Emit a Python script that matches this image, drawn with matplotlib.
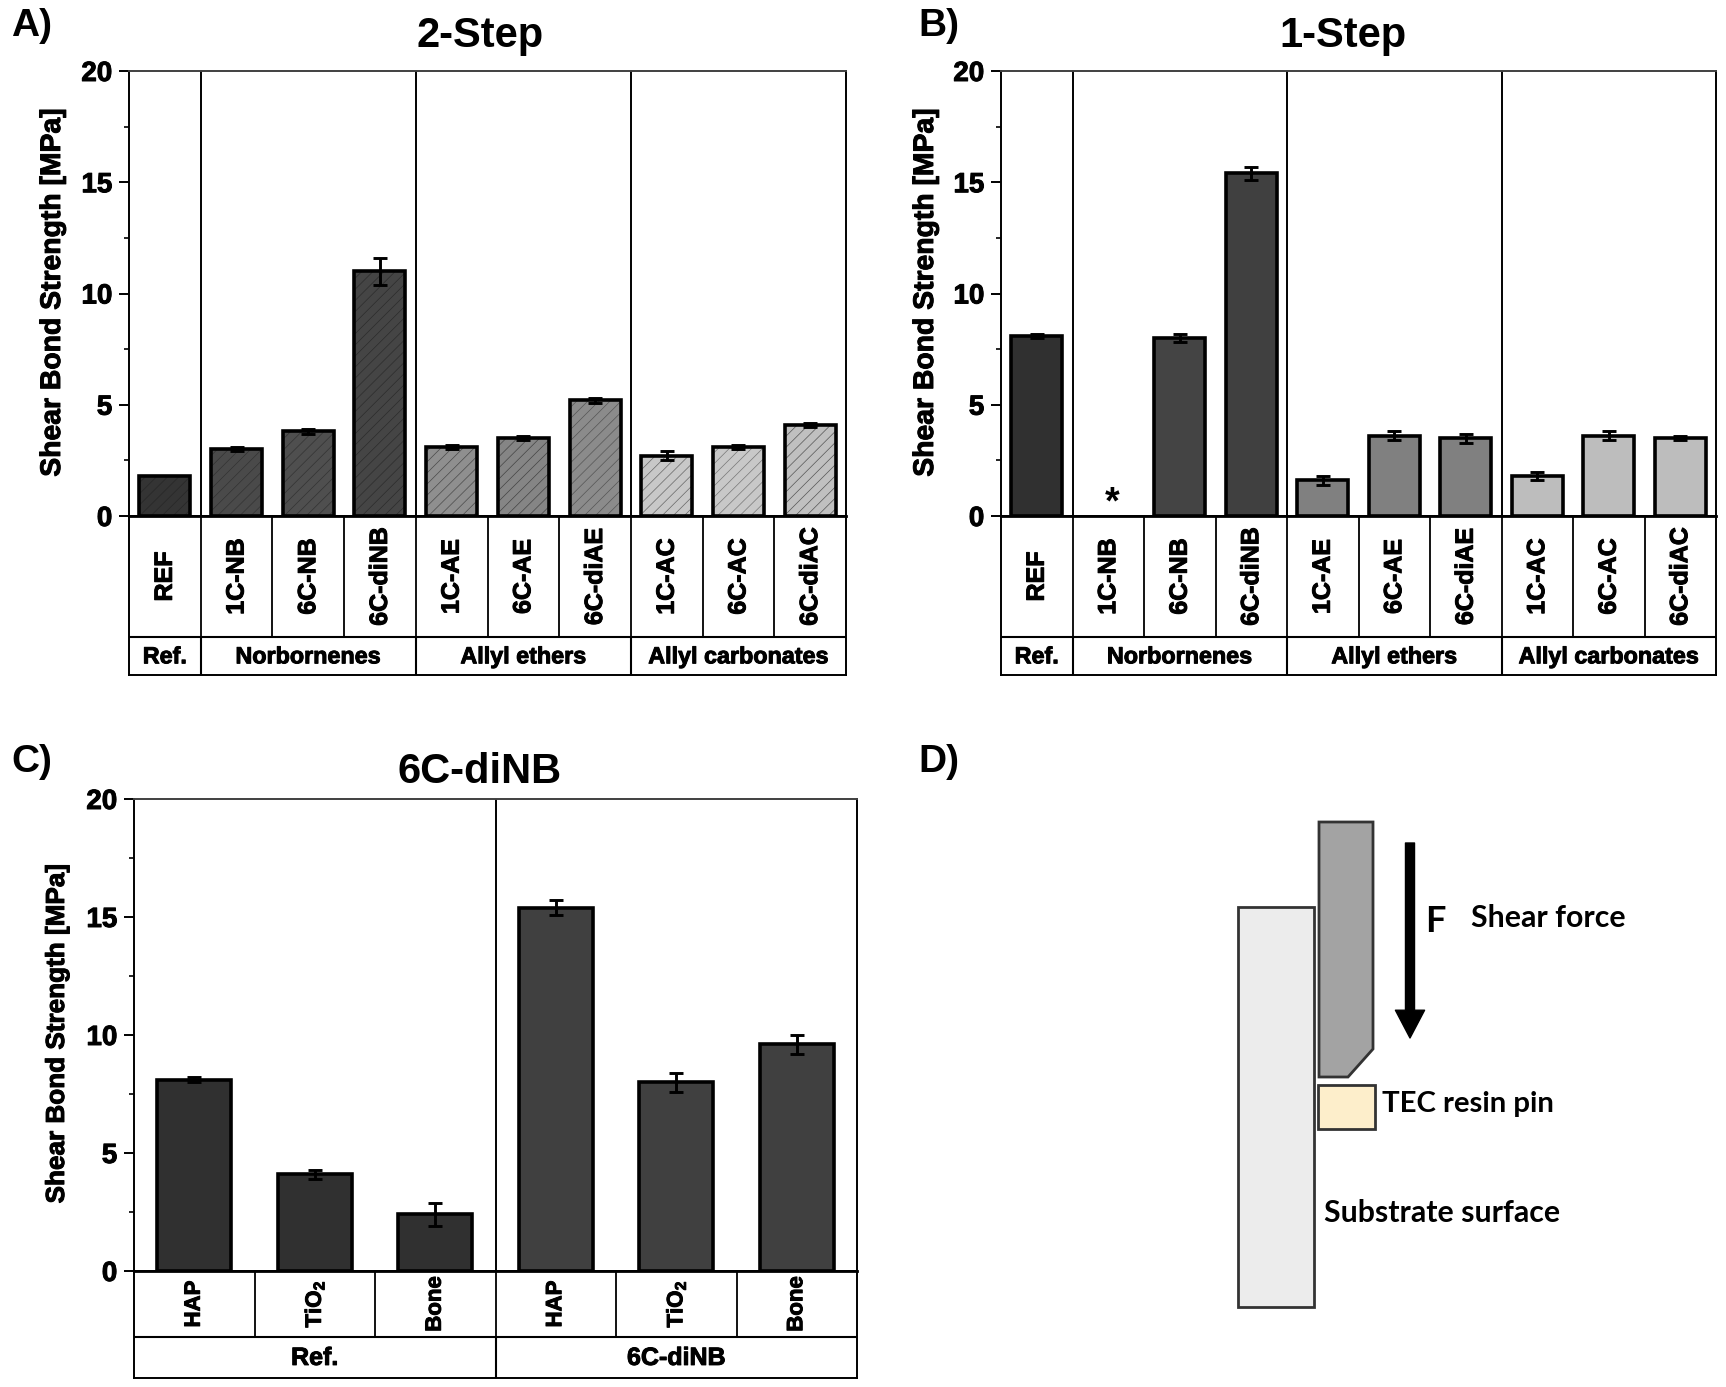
import numpy as np
import matplotlib
matplotlib.use("Agg")
import matplotlib.pyplot as plt
import matplotlib.patheffects as pe
from matplotlib.patches import Polygon

plt.rcParams['font.family'] = ['Liberation Sans', 'DejaVu Sans']
plt.rcParams['font.weight'] = 'bold'
plt.rcParams['mathtext.fontset'] = 'custom'
plt.rcParams['mathtext.rm'] = 'Liberation Sans:bold'
plt.rcParams['mathtext.default'] = 'rm'
plt.rcParams['hatch.linewidth'] = 0.5

W, H = 1726, 1387

# data
names = ['REF', '1C-NB', '6C-NB', '6C-diNB', '1C-AE', '6C-AE', '6C-diAE', '1C-AC', '6C-AC', '6C-diAC']
groups = ['Ref.', 'Norbornenes', 'Allyl ethers', 'Allyl carbonates']
group_sizes = [1, 3, 3, 3]

two_step = [1.8, 3.0, 3.8, 11.0, 3.1, 3.5, 5.2, 2.7, 3.1, 4.1]
two_step_err = [0, 0.1, 0.1, 0.6, 0.1, 0.1, 0.1, 0.2, 0.1, 0.1]
one_step = [8.1, 0, 8.0, 15.4, 1.6, 3.6, 3.5, 1.8, 3.6, 3.5]
one_step_err = [0.1, 0, 0.2, 0.3, 0.2, 0.2, 0.2, 0.2, 0.2, 0.1]

substrates = ['HAP', 'TiO$_2$', 'Bone', 'HAP', 'TiO$_2$', 'Bone']
sub_groups = ['Ref.', '6C-diNB']
sub_sizes = [3, 3]
substrate_vals = [8.1, 4.1, 2.4, 15.4, 8.0, 9.6]
substrate_err = [0.1, 0.2, 0.5, 0.3, 0.4, 0.4]

colors_a = ['#343434', '#4a4a4a', '#4f4f4f', '#454545', '#8f8f8f', '#858585', '#8b8b8b', '#c8c8c8', '#c8c8c8', '#c0c0c0']
hatch_a = ['#262626', '#333333', '#333333', '#2c2c2c', '#4a4a4a', '#444444', '#555555', '#666666', '#777777', '#555555']
colors_b = ['#303030', '#444444', '#444444', '#404040', '#808080', '#808080', '#808080', '#bdbdbd', '#bdbdbd', '#bdbdbd']
colors_c = ['#303030', '#303030', '#303030', '#404040', '#404040', '#404040']

# schematic in panel D, pixel positions
substrate_box = [(1242, 907), (1318, 907), (1318, 1307), (1242, 1307)]
pin_shape = [(1322, 822), (1378, 822), (1378, 1049), (1353, 1077), (1322, 1077)]
resin_box = [(1321, 1088), (1378, 1088), (1378, 1132), (1321, 1132)]
resin_box = [(x, y - 3) for x, y in resin_box]
arrow_x, arrow_top, arrow_tip = 1414, 843, 1038

heavy = [pe.withStroke(linewidth=0.7, foreground='black')]


def px_axes(fig, left, top, right, bottom):
    return fig.add_axes([left / W, 1 - bottom / H, (right - left) / W, (bottom - top) / H])


def panel(fig, box, vals, errs, colors, labels, grp, sizes, row2, width,
          label_size, group_size, ylabel, ylabel_x, ylabel_size, hatch_colors=None):
    left, top, right, y0, bottom = box
    n = len(vals)
    x = np.arange(n) + 0.5

    ax = px_axes(fig, left, top, right, y0)
    if hatch_colors is not None:
        # hatch lines take the edge colour, so the outline goes on in a second pass
        ax.bar(x, vals, width=width, color=colors, edgecolor=hatch_colors, linewidth=0, hatch='///', zorder=2)
        ax.bar(x, vals, width=width, fill=False, edgecolor='black', linewidth=2.6, zorder=2)
    else:
        lws = [2.6 if v > 0 else 0 for v in vals]
        ax.bar(x, vals, width=width, color=colors, edgecolor='black', linewidth=lws, zorder=2)
    for xi, v, e in zip(x, vals, errs):
        if e > 0:
            ax.errorbar(xi, v, yerr=e, color='black', elinewidth=2.1, capsize=5,
                        capthick=2.1, zorder=3)
    ax.set_xlim(0, n)
    ax.set_ylim(0, 20)
    ax.set_xticks([])
    ax.set_yticks([0, 5, 10, 15, 20])
    ax.set_yticks([2.5, 7.5, 12.5, 17.5], minor=True)
    ax.tick_params(axis='y', which='major', length=7, width=1.4, labelsize=20, pad=5)
    ax.tick_params(axis='y', which='minor', length=3.5, width=1.2)
    for t in ax.get_yticklabels():
        t.set_path_effects(heavy)
    for s in ax.spines.values():
        s.set_linewidth(1.4)
    ax.spines['top'].set_color('#404040')
    ax.spines['bottom'].set_linewidth(2.0)
    fig.text(ylabel_x / W, 1 - (top + y0) / 2 / H + 0.001, ylabel, rotation=90, ha='center',
             va='center', fontsize=ylabel_size, path_effects=heavy)

    # category table under the axis
    tb = px_axes(fig, left, y0, right, bottom)
    tb.set_xlim(0, n)
    tb.set_ylim(0, 1)
    tb.set_xticks([])
    tb.set_yticks([])
    tb.patch.set_alpha(0)
    for s in tb.spines.values():
        s.set_linewidth(1.4)
    tb.axhline(row2, color='black', lw=1.5)
    tb.vlines(np.arange(1, n), row2, 1, color='black', lw=1.3)
    for xi, name in zip(x, labels):
        tb.text(xi, (row2 + 1) / 2, name, rotation=90, ha='center', va='center',
                fontsize=label_size, path_effects=heavy)

    edges = np.cumsum(sizes)
    start = 0
    for g, e, size in zip(grp, edges, sizes):
        tb.text(start + size / 2, row2 / 2 - 0.005, g, ha='center', va='center', fontsize=group_size,
                path_effects=heavy)
        if e < n:
            tb.vlines(e, 0, row2, color='black', lw=1.5)
            ax.axvline(e, color='black', lw=1.4, zorder=1)
        start = e
    return ax


fig = plt.figure(figsize=(W / 100, H / 100), dpi=100, facecolor='white')

ylab = 'Shear Bond Strength [MPa]'
panel(fig, (129, 71, 846, 516, 675), two_step, two_step_err, colors_a, names, groups, group_sizes,
      0.2385, 0.71, 18, 16.8, ylab, 53, 20.4, hatch_colors=hatch_a)
ax_b = panel(fig, (1001, 71, 1716, 516, 675), one_step, one_step_err, colors_b, names, groups, group_sizes,
             0.2385, 0.71, 18, 16.8, ylab, 926, 20.4)
ax_b.text(1.56, 0.55, '*', ha='center', va='center', fontsize=27)
panel(fig, (134, 799, 857, 1271, 1378), substrate_vals, substrate_err, colors_c, substrates, sub_groups, sub_sizes,
      0.385, 0.61, 16, 18, ylab, 57, 18.8)

# panel letters and titles
for s, xp, yp in [('A)', 11, 26), ('B)', 918, 26), ('C)', 11, 762), ('D)', 918, 762)]:
    fig.text(xp / W, 1 - yp / H, s, ha='left', va='center', fontsize=28)
for s, xp, yp in [('2-Step', 480, 36), ('1-Step', 1343, 36), ('6C-diNB', 480, 772)]:
    fig.text(xp / W, 1 - yp / H, s, ha='center', va='center', fontsize=30)

# panel D
sk = fig.add_axes([0, 0, 1, 1], facecolor='none')
sk.set_xlim(0, W)
sk.set_ylim(H, 0)
sk.axis('off')
sk.add_patch(Polygon([(x - 4, y) for x, y in substrate_box], facecolor='#ececec', edgecolor='#333333', lw=2))
sk.add_patch(Polygon([(x - 3, y) for x, y in pin_shape[:1]] + [(x - 5, y) for x, y in pin_shape[1:3]]
                     + [(x - 5, y) for x, y in pin_shape[3:4]] + [(x - 3, y) for x, y in pin_shape[4:]],
                     facecolor='#a3a3a3', edgecolor='#333333', lw=2))
sk.add_patch(Polygon([(x - 3, y) for x, y in resin_box], facecolor='#fdeecb', edgecolor='#333333', lw=2))
sk.annotate('', xy=(arrow_x - 4, arrow_tip), xytext=(arrow_x - 4, arrow_top),
            arrowprops=dict(facecolor='black', edgecolor='black', width=6.5, headwidth=21, headlength=20, shrink=0))
for s, xp, yp, fs in [('F', 1425, 921, 26), ('Shear force', 1471, 918, 21.8),
                      ('TEC resin pin', 1382, 1104, 21.2), ('Substrate surface', 1324, 1213, 21.8)]:
    sk.text(xp, yp, s, ha='left', va='center', fontsize=fs, fontweight='bold', family=['Lato', 'DejaVu Sans'])

fig.savefig('out.png', dpi=100)
